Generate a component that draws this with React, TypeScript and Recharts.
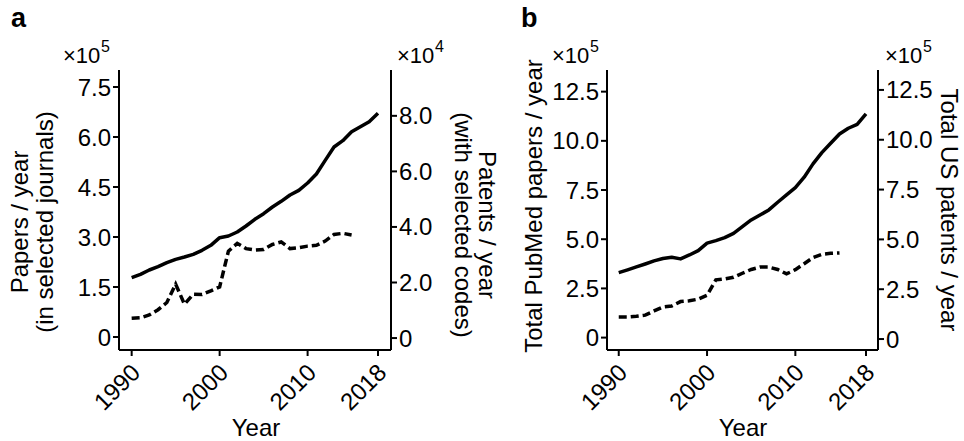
import React from 'react';
import { LineChart, Line, XAxis, YAxis } from 'recharts';

// years on the x axis
const years = [
  1990, 1991, 1992, 1993, 1994, 1995, 1996, 1997, 1998, 1999,
  2000, 2001, 2002, 2003, 2004, 2005, 2006, 2007, 2008, 2009,
  2010, 2011, 2012, 2013, 2014, 2015, 2016, 2017, 2018,
];

// panel a: papers / year in selected journals (x10^5)
const journalPapers = [
  1.78, 1.88, 2.01, 2.11, 2.23, 2.33, 2.4, 2.48, 2.6, 2.75,
  2.98, 3.03, 3.15, 3.33, 3.53, 3.7, 3.9, 4.07, 4.26, 4.4,
  4.62, 4.89, 5.3, 5.7, 5.89, 6.16, 6.31, 6.46, 6.71,
];

// panel a: patents / year with selected codes (x10^4), ends in 2015
const codedPatents = [
  0.71, 0.73, 0.83, 1.02, 1.28, 1.94, 1.22, 1.58, 1.57, 1.7,
  1.84, 3.13, 3.41, 3.22, 3.17, 3.19, 3.37, 3.46, 3.22, 3.25,
  3.31, 3.34, 3.49, 3.73, 3.77, 3.71, null, null, null,
];

// panel b: total PubMed papers / year (x10^5)
const pubmedPapers = [
  3.3, 3.44, 3.59, 3.74, 3.9, 4.02, 4.08, 4.0, 4.2, 4.42,
  4.8, 4.93, 5.08, 5.3, 5.64, 5.98, 6.23, 6.49, 6.88, 7.25,
  7.62, 8.15, 8.83, 9.4, 9.88, 10.35, 10.64, 10.84, 11.37,
];

// panel b: total US patents / year (x10^5), ends in 2015
const usPatents = [
  1.1, 1.1, 1.14, 1.2, 1.41, 1.61, 1.66, 1.88, 1.92, 2.0,
  2.2, 2.97, 3.02, 3.1, 3.3, 3.49, 3.61, 3.61, 3.49, 3.27,
  3.48, 3.78, 4.09, 4.25, 4.3, 4.32, null, null, null,
];

const yearTicks = [1990, 2000, 2010, 2018];
const journalTicks = [0, 1.5, 3, 4.5, 6, 7.5];
const codedTicks = [0, 2, 4, 6, 8];
const pubmedTicks = [0, 2.5, 5, 7.5, 10, 12.5];
const usTicks = [0, 2.5, 5, 7.5, 10, 12.5];

const FONT = '"Liberation Sans", Arial, sans-serif';
const axisStyle = { stroke: '#000', strokeWidth: 2 };
const tickText = { fill: '#000', fontSize: 24, fontFamily: FONT };

const fmt = (v: number) => (v === 0 ? '0' : v.toFixed(1));

function YearTick({ x, y, payload }: any) {
  const ax = x + 10;
  const ay = y + 16;
  return (
    <text
      x={ax}
      y={ay}
      transform={`rotate(-45 ${ax} ${ay})`}
      textAnchor="end"
      fill="#000"
      fontSize={24}
      fontFamily={FONT}
    >
      {payload.value}
    </text>
  );
}

interface PanelProps {
  width: number;
  leftWidth: number;
  rightWidth: number;
  xDomain: [number, number];
  leftDomain: [number, number];
  rightDomain: [number, number];
  leftTicks: number[];
  rightTicks: number[];
  solid: (number | null)[];
  dashed: (number | null)[];
}

function Panel(p: PanelProps) {
  const rows = years.map((year, i) => ({
    year,
    solid: p.solid[i],
    dashed: p.dashed[i],
  }));
  return (
    <LineChart
      width={p.width}
      height={441}
      data={rows}
      margin={{ top: 70, right: 0, bottom: 0, left: 0 }}
    >
      <XAxis
        dataKey="year"
        type="number"
        domain={p.xDomain}
        allowDataOverflow
        ticks={yearTicks}
        height={91}
        axisLine={axisStyle}
        tickLine={axisStyle}
        tickSize={6}
        tickMargin={2}
        tick={<YearTick />}
        interval={0}
      />
      <XAxis
        xAxisId="top"
        orientation="top"
        dataKey="year"
        type="number"
        domain={p.xDomain}
        allowDataOverflow
        height={0}
        tick={false}
        tickLine={false}
        axisLine={axisStyle}
      />
      <YAxis
        yAxisId="left"
        type="number"
        domain={p.leftDomain}
        allowDataOverflow
        ticks={p.leftTicks}
        width={p.leftWidth}
        axisLine={axisStyle}
        tickLine={axisStyle}
        tickSize={6}
        tickMargin={2}
        tick={tickText}
        tickFormatter={fmt}
        interval={0}
      />
      <YAxis
        yAxisId="right"
        orientation="right"
        type="number"
        domain={p.rightDomain}
        allowDataOverflow
        ticks={p.rightTicks}
        width={p.rightWidth}
        axisLine={axisStyle}
        tickLine={axisStyle}
        tickSize={6}
        tickMargin={2}
        tick={tickText}
        tickFormatter={fmt}
        interval={0}
      />
      <Line
        yAxisId="left"
        dataKey="solid"
        stroke="#000"
        strokeWidth={3.5}
        dot={false}
        strokeLinejoin="round"
        isAnimationActive={false}
      />
      <Line
        yAxisId="right"
        dataKey="dashed"
        stroke="#000"
        strokeWidth={3.5}
        strokeDasharray="8 4"
        dot={false}
        isAnimationActive={false}
      />
    </LineChart>
  );
}

function Power({ x, y, exp }: { x: number; y: number; exp: string }) {
  return (
    <g fontFamily={FONT} fill="#000">
      <text x={x} y={y} fontSize={22}>
        ×10
      </text>
      <text x={x + 38} y={y - 11} fontSize={16}>
        {exp}
      </text>
    </g>
  );
}

export default function App() {
  const label = { fontFamily: FONT, fontSize: 24, fill: '#000' };
  return (
    <div
      style={{
        position: 'absolute',
        left: 0,
        top: 0,
        width: 964,
        height: 441,
        background: '#fff',
      }}
    >
      <div style={{ position: 'absolute', left: 0, top: 0 }}>
        <Panel
          width={480}
          leftWidth={119}
          rightWidth={89}
          xDomain={[1988.56, 2019.48]}
          leftDomain={[-0.39, 8.01]}
          rightDomain={[-0.43, 9.65]}
          leftTicks={journalTicks}
          rightTicks={codedTicks}
          solid={journalPapers}
          dashed={codedPatents}
        />
      </div>
      <div style={{ position: 'absolute', left: 490, top: 0 }}>
        <Panel
          width={474}
          leftWidth={117}
          rightWidth={86}
          xDomain={[1988.67, 2019.36]}
          leftDomain={[-0.63, 13.6]}
          rightDomain={[-0.55, 13.5]}
          leftTicks={pubmedTicks}
          rightTicks={usTicks}
          solid={pubmedPapers}
          dashed={usPatents}
        />
      </div>
      <svg
        width={964}
        height={441}
        style={{ position: 'absolute', left: 0, top: 0, pointerEvents: 'none' }}
      >
        <text x={11} y={27} fontFamily={FONT} fontSize={27} fontWeight="bold">
          a
        </text>
        <text x={521} y={27} fontFamily={FONT} fontSize={27} fontWeight="bold">
          b
        </text>

        <Power x={63} y={63} exp="5" />
        <Power x={397} y={63} exp="4" />
        <Power x={552} y={63} exp="5" />
        <Power x={885} y={63} exp="5" />

        <text {...label} x={28} y={222} transform="rotate(-90 28 222)" textAnchor="middle">
          Papers / year
        </text>
        <text {...label} x={53} y={222} transform="rotate(-90 53 222)" textAnchor="middle">
          (in selected journals)
        </text>
        <text {...label} x={479} y={225} transform="rotate(90 479 225)" textAnchor="middle">
          Patents / year
        </text>
        <text {...label} x={455} y={225} transform="rotate(90 455 225)" textAnchor="middle">
          (with selected codes)
        </text>
        <text {...label} x={542} y={206} transform="rotate(-90 542 206)" textAnchor="middle">
          Total PubMed papers / year
        </text>
        <text {...label} x={941} y={210} transform="rotate(90 941 210)" textAnchor="middle">
          Total US patents / year
        </text>

        <text {...label} x={256} y={436} textAnchor="middle">
          Year
        </text>
        <text {...label} x={743} y={436} textAnchor="middle">
          Year
        </text>
      </svg>
    </div>
  );
}
